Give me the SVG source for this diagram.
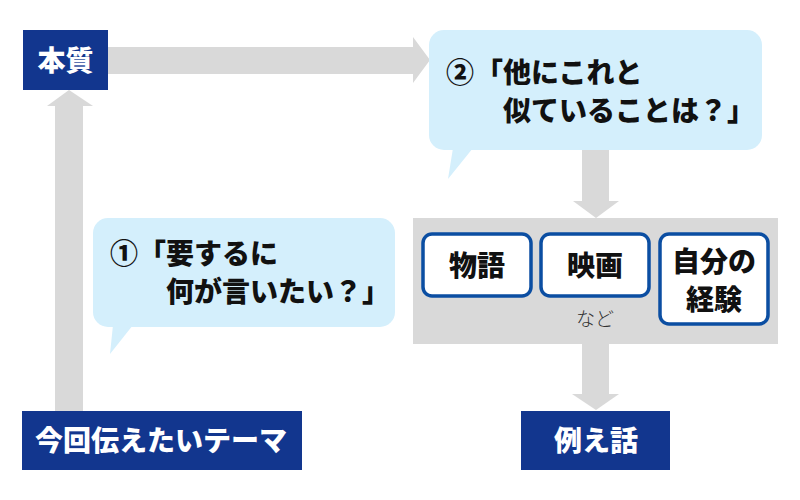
<svg xmlns="http://www.w3.org/2000/svg" width="800" height="500" viewBox="0 0 800 500">
<style>
.t{font-family:"Noto Sans CJK JP","Noto Sans CJK SC",sans-serif;font-weight:900}
.w{fill:#ffffff;font-size:28px;text-anchor:middle;dominant-baseline:central}
.k{fill:#111111;font-size:28px}
.b{fill:#111111;font-size:28px;text-anchor:middle;dominant-baseline:central}
.navy{fill:#12368e}
.arr{fill:#d9d9d9}
.bub{fill:#d4effc}
.card{fill:#ffffff;stroke:#0b4ea2;stroke-width:3.5}
</style>
<rect width="800" height="500" fill="#ffffff"/>
<g id="connectors">
<polygon class="arr" points="108,47 413,47 413,37 430,60 413,83 413,74 108,74"/>
<polygon class="arr" points="55,411 55,106 47,106 69,90 93,106 83,106 83,411"/>
<polygon class="arr" points="582,150 609,150 609,201 619,201 596,218 573,201 582,201"/>
<polygon class="arr" points="582,344 609,344 609,394 619,394 596,410 572,394 582,394"/>
</g>
<g id="panel">
<rect class="arr" x="413" y="218" width="365" height="126"/>
<text x="595" y="326" text-anchor="middle" style="font-family:'Noto Sans CJK JP',sans-serif;font-size:19px;font-weight:300;fill:#333">など</text>
</g>
<g id="honshitsu">
<rect class="navy" x="23" y="30" width="85" height="60"/>
<text class="t w" x="65.5" y="59">本質</text>
</g>
<g id="theme">
<rect class="navy" x="22" y="411" width="280" height="59"/>
<text class="t w" x="161" y="439">今回伝えたいテーマ</text>
</g>
<g id="tatoebanashi">
<rect class="navy" x="521" y="411" width="149" height="59"/>
<text class="t w" x="596" y="439">例え話</text>
</g>
<g id="bubble1">
<rect class="bub" x="93" y="218" width="302" height="109" rx="15"/>
<polygon class="bub" points="113,325 110,354 133,325"/>
<text class="t k" x="110" y="264">①</text>
<text class="t k" x="138" y="264">「要するに</text>
<text class="t k" x="166" y="302">何が言いたい？」</text>
</g>
<g id="bubble2">
<rect class="bub" x="429" y="30" width="333" height="120" rx="15"/>
<polygon class="bub" points="453,148 448,179 473,148"/>
<text class="t k" x="446" y="83">②</text>
<text class="t k" x="475" y="83">「他にこれと</text>
<text class="t k" x="503" y="121">似ていることは？」</text>
</g>
<g id="monogatari">
<rect class="card" x="423" y="234" width="108" height="62" rx="9"/>
<text class="t b" x="477" y="264">物語</text>
</g>
<g id="eiga">
<rect class="card" x="541" y="234" width="108" height="62" rx="9"/>
<text class="t b" x="595" y="264">映画</text>
</g>
<g id="keiken">
<rect class="card" x="660" y="234" width="108" height="90" rx="9"/>
<text class="t b" x="714" y="260">自分の</text>
<text class="t b" x="714" y="298">経験</text>
</g>
</svg>
